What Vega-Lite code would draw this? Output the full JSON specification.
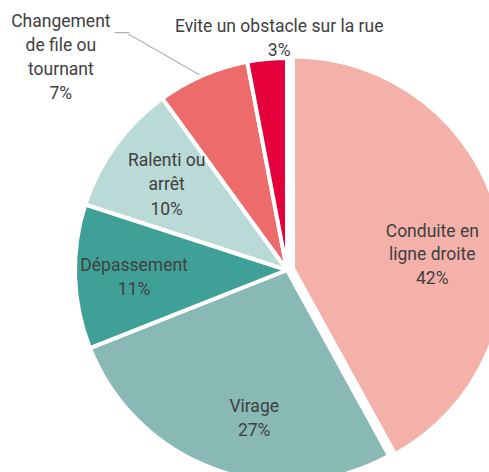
{
  "$schema": "https://vega.github.io/schema/vega-lite/v6.json",
  "width": 574,
  "height": 540,
  "autosize": {"type": "none"},
  "padding": {"left": 0, "top": 0, "right": -85, "bottom": -68},
  "background": "white",
  "view": {"stroke": null},
  "config": {"text": {"font": "Roboto", "fontSize": 17.5, "fill": "#404040"}},
  "data": {
    "values": [
      {"rank": 1, "cat": "Conduite en ligne droite", "label": "Conduite en\nligne droite\n42%", "value": 42},
      {"rank": 2, "cat": "Virage", "label": "Virage\n27%", "value": 27},
      {"rank": 3, "cat": "Dépassement", "label": "Dépassement\n11%", "value": 11},
      {"rank": 4, "cat": "Ralenti ou arrêt", "label": "Ralenti ou\narrêt\n10%", "value": 10},
      {"rank": 5, "cat": "Changement de file ou tournant", "label": "Changement\nde file ou\ntournant\n7%", "value": 7},
      {"rank": 6, "cat": "Evite un obstacle sur la rue", "label": "Evite un obstacle sur la rue\n3%", "value": 3}
    ]
  },
  "transform": [
    {"stack": "value", "groupby": [], "sort": [{"field": "rank", "order": "ascending"}], "as": ["v0", "v1"]},
    {"calculate": "(datum.v0 + datum.v1) / 2", "as": "mid"}
  ],
  "layer": [
    {
      "transform": [{"filter": "datum.rank == 5"}],
      "mark": {"type": "text", "font": "DejaVu Sans", "fontSize": 12, "fill": "#a6a6a6", "text": "────────────", "radius": 210, "angle": 29.8, "align": "right", "baseline": "middle"},
      "encoding": {"theta": {"field": "mid", "type": "quantitative", "scale": {"domain": [0, 100]}}}
    },
    {
      "transform": [{"filter": "datum.rank == 5"}],
      "mark": {"type": "text", "font": "DejaVu Sans", "fontSize": 12, "fill": "#a6a6a6", "text": "──", "radius": 232, "dx": -66, "dy": -24, "align": "right", "baseline": "middle"},
      "encoding": {"theta": {"field": "mid", "type": "quantitative"}}
    },
    {
      "transform": [{"filter": "datum.rank != 1"}],
      "mark": {"type": "arc", "outerRadius": 212, "stroke": "white", "strokeWidth": 4},
      "encoding": {
        "theta": {"field": "v0", "type": "quantitative"},
        "theta2": {"field": "v1"},
        "color": {
          "field": "cat", "type": "nominal", "legend": null,
          "scale": {
            "domain": ["Conduite en ligne droite", "Virage", "Dépassement", "Ralenti ou arrêt", "Changement de file ou tournant", "Evite un obstacle sur la rue"],
            "range": ["#F4B1AA", "#88B9B5", "#3FA098", "#B9DAD6", "#EE6B6C", "#E4003B"]
          }
        }
      }
    },
    {
      "transform": [{"filter": "datum.rank == 1"}],
      "mark": {"type": "arc", "outerRadius": 212, "stroke": "white", "strokeWidth": 4, "xOffset": 6, "yOffset": -1.5},
      "encoding": {
        "theta": {"field": "v0", "type": "quantitative"},
        "theta2": {"field": "v1"},
        "color": {"field": "cat", "type": "nominal", "legend": null}
      }
    },
    {
      "transform": [{"filter": "datum.rank == 1"}],
      "mark": {"type": "text", "radius": 150, "dy": -1, "lineBreak": "\n", "lineHeight": 23.5, "align": "center", "baseline": "middle"},
      "encoding": {"theta": {"field": "mid", "type": "quantitative"}, "text": {"field": "label"}}
    },
    {
      "transform": [{"filter": "datum.rank == 2"}],
      "mark": {"type": "text", "radius": 150, "dx": 18, "dy": -4, "lineBreak": "\n", "lineHeight": 24, "align": "center", "baseline": "middle"},
      "encoding": {"theta": {"field": "mid", "type": "quantitative"}, "text": {"field": "label"}}
    },
    {
      "transform": [{"filter": "datum.rank == 3"}],
      "mark": {"type": "text", "radius": 150, "dx": -3, "dy": -9, "lineBreak": "\n", "lineHeight": 24, "align": "center", "baseline": "middle"},
      "encoding": {"theta": {"field": "mid", "type": "quantitative"}, "text": {"field": "label"}}
    },
    {
      "transform": [{"filter": "datum.rank == 4"}],
      "mark": {"type": "text", "radius": 150, "dx": 1, "dy": -21, "lineBreak": "\n", "lineHeight": 24.5, "align": "center", "baseline": "middle"},
      "encoding": {"theta": {"field": "mid", "type": "quantitative"}, "text": {"field": "label"}}
    },
    {
      "transform": [{"filter": "datum.rank == 5"}],
      "mark": {"type": "text", "radius": 232, "dx": -134, "dy": -35.5, "lineBreak": "\n", "lineHeight": 24.3, "align": "center", "baseline": "middle"},
      "encoding": {"theta": {"field": "mid", "type": "quantitative"}, "text": {"field": "label"}}
    },
    {
      "transform": [{"filter": "datum.rank == 6"}],
      "mark": {"type": "text", "radius": 232, "dx": 14, "dy": -12, "lineBreak": "\n", "lineHeight": 23.5, "align": "center", "baseline": "middle"},
      "encoding": {"theta": {"field": "mid", "type": "quantitative"}, "text": {"field": "label"}}
    }
  ]
}
